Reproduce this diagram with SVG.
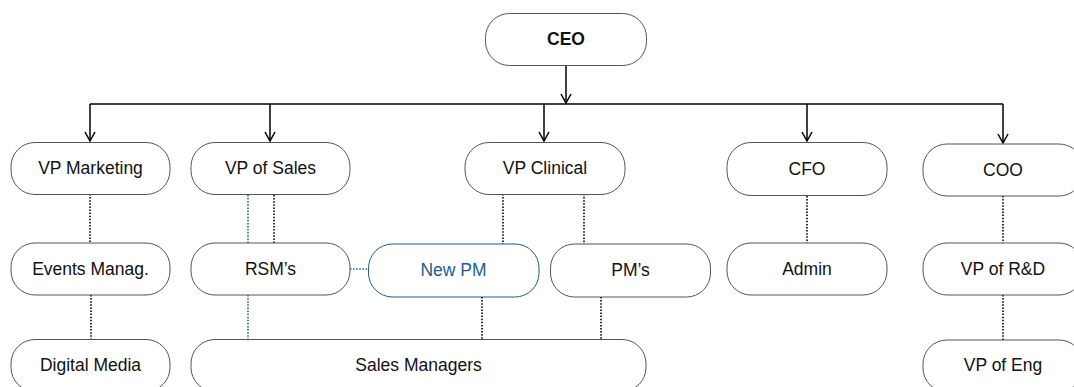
<svg xmlns="http://www.w3.org/2000/svg" width="1074" height="387" viewBox="0 0 1074 387">
  <style>
    .box { fill: #ffffff; stroke: #555555; stroke-width: 1; }
    .box.blue { stroke: #1f5d8c; }
    .label { font-family: "Liberation Sans", Arial, Helvetica, sans-serif; font-size: 17.5px; fill: #111111; text-anchor: middle; }
    .label.bold { font-weight: bold; }
    .label.blue { fill: #1f5d8c; }
    .solid { fill: none; stroke: #000000; stroke-width: 1.5; }
    .dot { fill: none; stroke: #000000; stroke-width: 1.6; stroke-dasharray: 1.5 1.6; }
    .dot.blue { stroke: #1f5d8c; }
  </style>
  <defs>
    <marker id="open" viewBox="0 0 12 12" refX="11" refY="6" markerWidth="12" markerHeight="12" markerUnits="userSpaceOnUse" orient="auto">
      <path d="M2,1 L11,6 L2,11" fill="none" stroke="#000" stroke-width="1.5"/>
    </marker>
  </defs>
  <rect width="1074" height="387" fill="#ffffff"/>

  <g id="connectors">
    <!-- reporting lines from the CEO -->
    <path class="solid" d="M566,65 V103" marker-end="url(#open)"/>
    <path class="solid" d="M90,104 H1003"/>
    <path class="solid" d="M90,104 V141" marker-end="url(#open)"/>
    <path class="solid" d="M270,104 V141" marker-end="url(#open)"/>
    <path class="solid" d="M544,104 V141" marker-end="url(#open)"/>
    <path class="solid" d="M807,104 V141" marker-end="url(#open)"/>
    <path class="solid" d="M1003,104 V143" marker-end="url(#open)"/>
    <!-- dotted reporting lines -->
    <path class="dot" d="M90,194 V243"/>
    <path class="dot" d="M91,295 V339"/>
    <path class="dot blue" d="M248,195 V243"/>
    <path class="dot" d="M274,195 V243"/>
    <path class="dot blue" d="M350,269 H368"/>
    <path class="dot blue" d="M248,295 V339"/>
    <path class="dot" d="M503,194 V244"/>
    <path class="dot" d="M584,194 V244"/>
    <path class="dot" d="M482,297 V339"/>
    <path class="dot" d="M601,297 V339"/>
    <path class="dot" d="M807,196 V243"/>
    <path class="dot" d="M1003,196 V243"/>
    <path class="dot" d="M1003,295 V340"/>
  </g>

  <g id="ceo">
    <rect class="box" x="485.5" y="13.5" width="161" height="52" rx="24"/>
    <text class="label bold" x="566" y="45">CEO</text>
  </g>
  <g id="vp-marketing">
    <rect class="box" x="11" y="142.5" width="159" height="52" rx="24"/>
    <text class="label" x="90.5" y="174">VP Marketing</text>
  </g>
  <g id="vp-sales">
    <rect class="box" x="191" y="142.5" width="159" height="52" rx="24"/>
    <text class="label" x="270.5" y="174">VP of Sales</text>
  </g>
  <g id="vp-clinical">
    <rect class="box" x="465" y="142.5" width="160" height="52" rx="24"/>
    <text class="label" x="545" y="174">VP Clinical</text>
  </g>
  <g id="cfo">
    <rect class="box" x="727" y="142.5" width="160" height="53" rx="24"/>
    <text class="label" x="807" y="175">CFO</text>
  </g>
  <g id="coo">
    <rect class="box" x="923" y="144" width="160" height="52" rx="24"/>
    <text class="label" x="1003" y="176">COO</text>
  </g>
  <g id="events-manager">
    <rect class="box" x="11" y="243" width="159" height="52" rx="24"/>
    <text class="label" x="90.5" y="275">Events Manag.</text>
  </g>
  <g id="rsms">
    <rect class="box" x="191" y="243" width="159" height="52" rx="24"/>
    <text class="label" x="270.5" y="275">RSM’s</text>
  </g>
  <g id="new-pm">
    <rect class="box blue" x="368.5" y="244" width="170.5" height="53" rx="24"/>
    <text class="label blue" x="453.5" y="276">New PM</text>
  </g>
  <g id="pms">
    <rect class="box" x="550.5" y="244" width="160" height="53" rx="24"/>
    <text class="label" x="630.5" y="276">PM’s</text>
  </g>
  <g id="admin">
    <rect class="box" x="727" y="243" width="160" height="52" rx="24"/>
    <text class="label" x="807" y="275">Admin</text>
  </g>
  <g id="vp-rd">
    <rect class="box" x="923" y="243" width="160" height="52" rx="24"/>
    <text class="label" x="1003" y="275">VP of R&amp;D</text>
  </g>
  <g id="digital-media">
    <rect class="box" x="11" y="339.5" width="159" height="52" rx="24"/>
    <text class="label" x="90.5" y="371">Digital Media</text>
  </g>
  <g id="sales-managers">
    <rect class="box" x="191" y="339.5" width="455" height="52" rx="24"/>
    <text class="label" x="418.5" y="371">Sales Managers</text>
  </g>
  <g id="vp-eng">
    <rect class="box" x="923" y="340" width="160" height="52" rx="24"/>
    <text class="label" x="1003" y="371">VP of Eng</text>
  </g>
</svg>
